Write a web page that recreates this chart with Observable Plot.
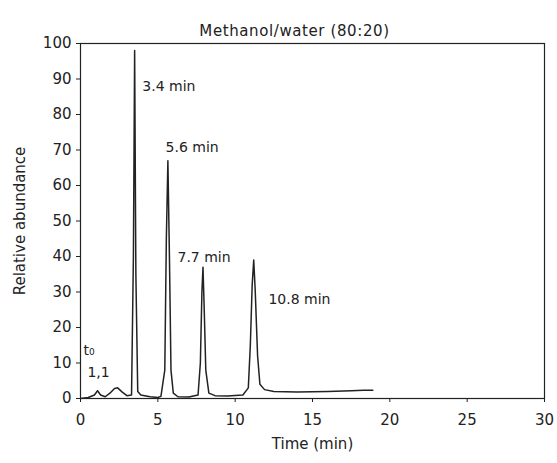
<!DOCTYPE html>
<html>
<head>
<meta charset="utf-8">
<script src="https://cdn.jsdelivr.net/npm/d3@7"></script>
<script src="https://cdn.jsdelivr.net/npm/@observablehq/plot@0.6"></script>
<style>
  html, body { margin: 0; padding: 0; background: #fff; }
  #wrap { position: relative; width: 557px; height: 463px; }
  #title { position: absolute; top: 22px; left: 0; width: 557px; padding-left: 32px; box-sizing: border-box;
           text-align: center; font-family: "DejaVu Sans", sans-serif; font-size: 15px; color: #222; letter-spacing: 0.6px; }
  svg { font-family: "DejaVu Sans", sans-serif; }
</style>
</head>
<body>
<div id="wrap"><div id="title">Methanol/water (80:20)</div></div>
<script>
// Chromatogram trace
const time = [0, 0.5, 0.9, 1.1, 1.3, 1.6, 1.9, 2.2, 2.4, 2.7, 3.0, 3.3, 3.42, 3.5, 3.58, 3.7, 3.9, 4.5, 5.0, 5.2, 5.45, 5.55, 5.65, 5.75, 5.85, 6.0, 6.3, 7.0, 7.6, 7.75, 7.85, 7.92, 8.0, 8.1, 8.3, 8.7, 9.5, 10.5, 10.85, 10.98, 11.1, 11.2, 11.3, 11.45, 11.6, 11.9, 12.5, 14, 16, 17.5, 18.3, 18.9];
const abundance = [0, 0.3, 1, 2.2, 1, 0.5, 1.5, 2.8, 3, 1.8, 0.8, 1, 40, 98, 35, 2, 1, 0.5, 0.3, 0.6, 8, 45, 67, 40, 8, 1.5, 0.5, 0.4, 1, 10, 30, 37, 25, 8, 1.5, 0.8, 0.7, 1, 3, 15, 32, 39, 30, 12, 4, 2.5, 2, 1.8, 2, 2.2, 2.3, 2.3];
const xTicks = [0, 5, 10, 15, 20, 25, 30];
const yTicks = [0, 10, 20, 30, 40, 50, 60, 70, 80, 90, 100];
const peakLabels = ["3.4 min", "5.6 min", "7.7 min", "10.8 min", "t₀", "1,1"];
const labelTime = [4.0, 5.5, 6.27, 12.15, 0.2, 0.45];
const labelAbundance = [88, 70.7, 39.7, 27.9, 13.5, 7.3];

const trace = time.map((t, i) => ({t, a: abundance[i]}));
const labels = peakLabels.map((s, i) => ({s, t: labelTime[i], a: labelAbundance[i]}));

const ink = "#222";
const chart = Plot.plot({
  width: 557,
  height: 463,
  marginLeft: 80,
  marginRight: 13,
  marginTop: 43,
  marginBottom: 65,
  style: {fontFamily: "DejaVu Sans, sans-serif", fontSize: "14px", color: ink, background: "#fff"},
  x: {domain: [0, 30]},
  y: {domain: [0, 100]},
  marks: [
    Plot.frame({stroke: ink, strokeWidth: 1.2}),
    Plot.axisX({ticks: xTicks, tickSize: 4, tickPadding: 12, fontSize: 15, label: "Time (min)", labelAnchor: "center", labelOffset: 50, labelArrow: "none"}),
    Plot.axisY({ticks: yTicks, tickSize: 4, tickPadding: 5, fontSize: 15, label: "Relative abundance", labelAnchor: "center", labelOffset: 66, labelArrow: "none"}),
    Plot.line(trace, {x: "t", y: "a", stroke: ink, strokeWidth: 1.5}),
    Plot.text(labels, {x: "t", y: "a", text: "s", textAnchor: "start", fontSize: 14, fill: ink})
  ]
});
document.getElementById("wrap").appendChild(chart);
</script>
</body>
</html>
